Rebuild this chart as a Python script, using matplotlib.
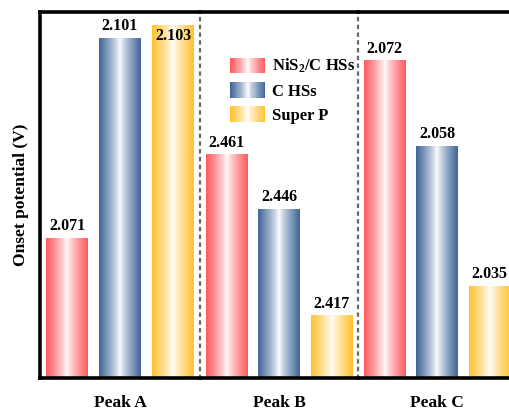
import numpy as np
import matplotlib
matplotlib.use("Agg")
import matplotlib.pyplot as plt
from matplotlib.patches import Rectangle
from matplotlib.legend_handler import HandlerBase
from matplotlib.colors import to_rgb

# ---- data ----
groups = ["Peak A", "Peak B", "Peak C"]
series = ["NiS$_2$/C HSs", "C HSs", "Super P"]
peak_a = [2.071, 2.101, 2.103]
peak_b = [2.461, 2.446, 2.417]
peak_c = [2.072, 2.058, 2.035]
values = [peak_a, peak_b, peak_c]
ylims = [(2.050, 2.105), (2.400, 2.500), (2.020, 2.080)]
colors = ["#FF5B60", "#43679A", "#FFC233"]

plt.rcParams["font.family"] = ["Liberation Serif", "DejaVu Serif"]
plt.rcParams["font.weight"] = "bold"
plt.rcParams["mathtext.fontset"] = "custom"
plt.rcParams["mathtext.rm"] = "Liberation Serif:bold"
plt.rcParams["mathtext.it"] = "Liberation Serif:bold"

W, H = 509, 412
fig = plt.figure(figsize=(W / 100, H / 100), dpi=100)

def grad_rgb(color, n=64, p=0.8):
    c = np.array(to_rgb(color))
    t = np.linspace(0, 1, n)
    w = np.abs(2 * t - 1) ** p
    return (1 - w)[:, None] * np.ones(3) + w[:, None] * c

class GradHandler(HandlerBase):
    def __init__(self, color):
        super().__init__()
        self.color = color
    def create_artists(self, legend, orig_handle, xdescent, ydescent, width, height, fontsize, trans):
        n = 40
        cols = grad_rgb(self.color, n)
        arts = []
        for i in range(n):
            r = Rectangle((-xdescent + width * i / n, -ydescent - 0.05 * height), width / n * 1.05, height * 1.1,
                          facecolor=cols[i], edgecolor="none", transform=trans)
            arts.append(r)
        return arts

bounds = [40, 200, 358, 516]
top_px, bot_px = 12, 378
x = np.arange(3)
width = 0.79
axes = []
for gi in range(3):
    l = bounds[gi] / W
    w = (bounds[gi + 1] - bounds[gi]) / W
    ax = fig.add_axes([l, (H - bot_px) / H, w, (bot_px - top_px) / H])
    axes.append(ax)
    ax.set_xlim(-0.51, 2.51)
    ax.set_ylim(*ylims[gi])
    bars = ax.bar(x, values[gi], width=width, bottom=0, color="none", edgecolor="none")
    for bi, b in enumerate(bars):
        x0, x1 = b.get_x(), b.get_x() + b.get_width()
        img = grad_rgb(colors[bi], 64)[None, :, :]
        ax.imshow(img, extent=[x0, x1, ylims[gi][0], values[gi][bi]], aspect="auto",
                  interpolation="bilinear", zorder=2)
        off = 3
        va = "bottom"
        if gi == 0 and bi == 2:
            off, va = -2, "top"
        ax.annotate(f"{values[gi][bi]:.3f}", (x[bi], values[gi][bi]), xytext=(0, off),
                    textcoords="offset points", ha="center", va=va, fontsize=11.5,
                    fontweight="bold", zorder=5)
    ax.set_xlim(-0.51, 2.51)
    ax.set_ylim(*ylims[gi])
    ax.set_yticks([])
    ax.set_xticks([1])
    ax.set_xticklabels([groups[gi]], fontsize=12.5, fontweight="bold")
    ax.tick_params(axis="x", length=0, pad=12)
    for s in ["top", "bottom"]:
        ax.spines[s].set_linewidth(2.6)
        ax.spines[s].set_color("black")
    ax.spines["right"].set_visible(False)
    if gi == 0:
        ax.spines["left"].set_linewidth(2.6)
        ax.spines["left"].set_color("black")
        ax.set_ylabel("Onset potential (V)", fontsize=12.5, fontweight="bold", labelpad=8)
    else:
        ax.spines["left"].set_linestyle((0, (1, 2.5)))
        ax.spines["left"].set_linewidth(1.6)
        ax.spines["left"].set_color("#6a6a6a")
    ax.patch.set_alpha(0)

handles = [Rectangle((0, 0), 1, 1) for _ in range(3)]
leg = axes[1].legend(handles, series, loc="upper left", bbox_to_anchor=(0.15, 0.895),
                     frameon=False, handlelength=2.1, handleheight=0.9,
                     handletextpad=0.4, labelspacing=0.45, borderaxespad=0,
                     handler_map={h: GradHandler(c) for h, c in zip(handles, colors)},
                     prop={"weight": "bold", "size": 12})

fig.savefig("out.png", dpi=100)
